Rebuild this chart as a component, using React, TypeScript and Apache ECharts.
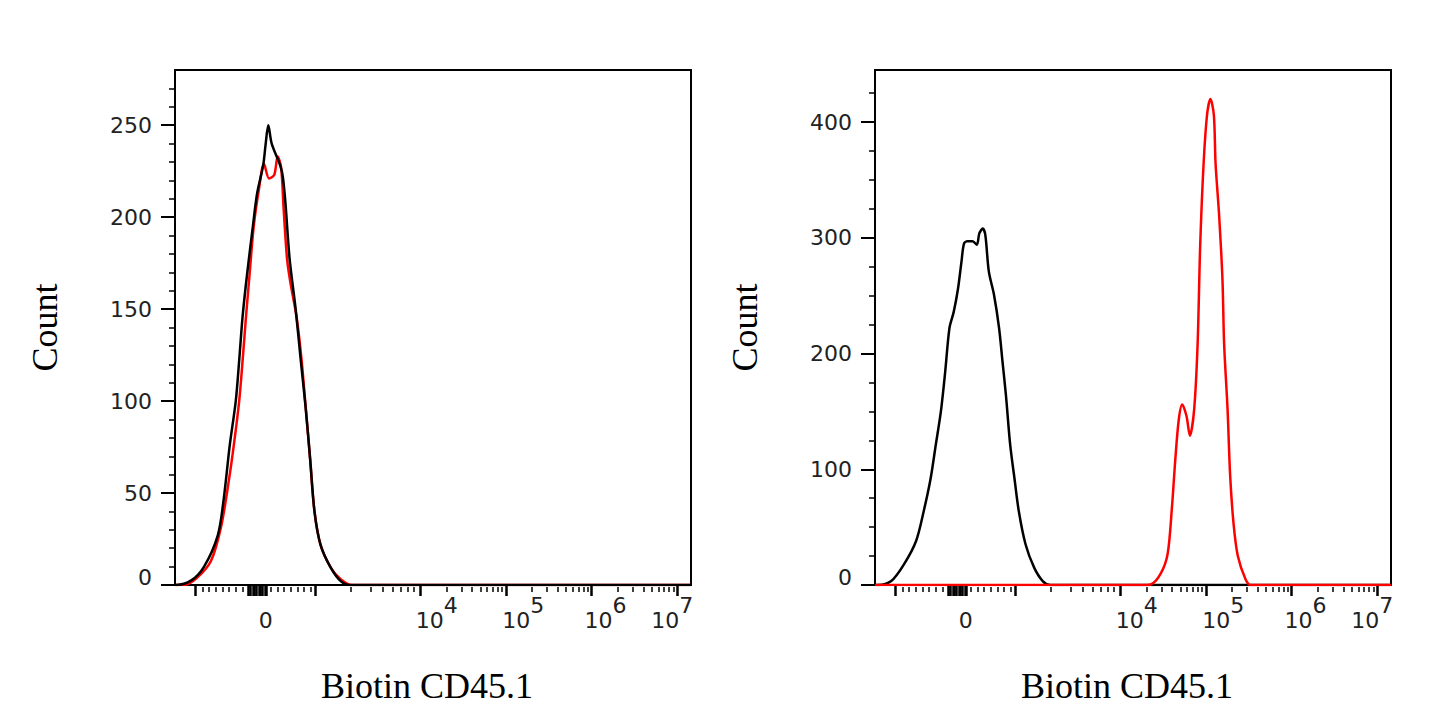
import * as echarts from "echarts";
import React, { useEffect, useRef } from "react";

// x values are positions on the biexponential display, in decade units (10^4 -> 4, 10^5 -> 5 ...)
const X_MIN = 1.13;
const X_MAX = 7.16;

// left panel
const leftRedX = [1.13, 1.24, 1.39, 1.55, 1.67, 1.76, 1.82, 1.88, 1.92, 1.96, 2.0, 2.05, 2.11, 2.17, 2.23, 2.29, 2.33, 2.37, 2.4, 2.44, 2.48, 2.55, 2.61, 2.66, 2.71, 2.76, 2.83, 2.95, 3.07, 3.2, 7.16];
const leftRedY = [0, 0, 4, 13, 32, 57, 77, 100, 122, 146, 168, 195, 215, 229, 221, 223, 233, 227, 204, 177, 164, 146, 122, 95, 68, 40, 22, 9.5, 3, 0, 0];
const leftBlackX = [1.13, 1.14, 1.32, 1.47, 1.63, 1.7, 1.77, 1.84, 1.88, 1.92, 1.97, 2.04, 2.09, 2.16, 2.19, 2.22, 2.26, 2.36, 2.39, 2.42, 2.47, 2.54, 2.6, 2.66, 2.71, 2.76, 2.83, 2.95, 3.07, 3.18, 7.16];
const leftBlackY = [0, 0, 2.5, 10, 27, 47, 76, 100, 122, 146, 168, 195, 213, 228, 240, 250, 240, 228, 222, 208, 177, 150, 122, 95, 68, 40, 22, 9.5, 2, 0, 0];

// right panel
const rightBlackX = [1.13, 1.16, 1.32, 1.47, 1.61, 1.7, 1.78, 1.84, 1.9, 1.95, 2.0, 2.05, 2.1, 2.14, 2.17, 2.21, 2.27, 2.32, 2.35, 2.39, 2.42, 2.46, 2.52, 2.58, 2.62, 2.66, 2.71, 2.76, 2.81, 2.89, 2.99, 3.09, 3.18, 7.16];
const rightBlackY = [0, 0, 3.4, 18, 38, 64, 92, 121, 150, 184, 222, 236, 256, 279, 295, 297, 297, 294, 304, 308, 302, 271, 251, 222, 193, 164, 121, 92, 64, 35, 15, 3.4, 0, 0];
const rightRedX = [1.13, 4.23, 4.35, 4.47, 4.55, 4.6, 4.64, 4.68, 4.72, 4.77, 4.81, 4.86, 4.9, 4.93, 4.97, 5.01, 5.05, 5.09, 5.11, 5.15, 5.19, 5.21, 5.25, 5.28, 5.32, 5.37, 5.46, 5.52, 7.16];
const rightRedY = [0, 0, 0.5, 10, 27, 67, 109, 143, 156, 146, 129, 152, 208, 293, 364, 406, 420, 406, 364, 321, 265, 208, 152, 95, 53, 25, 5, 0, 0];

// x axis ticks and labels
const xLabels = ["0", "10^4", "10^5", "10^6", "10^7"];
const xLabelPos = [2.19, 4.19, 5.2, 6.16, 6.94];
const xZeroCluster = [1.99, 2.01, 2.04, 2.06, 2.08, 2.11, 2.13, 2.15, 2.18, 2.2];
const xMajorTicks = [1.37, 2.77, 4, 5, 6, 7, ...xZeroCluster];
const xMinorNearZero = [1.45, 1.53, 1.61, 1.69, 1.76, 1.84, 1.92, 2.25, 2.33, 2.4, 2.48, 2.56, 2.64, 2.72];
const xMinorThousands = [3.18, 3.42, 3.56, 3.67, 3.77, 3.85, 3.92];
const decadeMinor = [4, 5, 6].flatMap((d) => [2, 3, 4, 5, 6, 7, 8, 9].map((k) => d + Math.log10(k)));
const xMinorTicks = [...xMinorNearZero, ...xMinorThousands, ...decadeMinor];

// y axes
const leftYMax = 280;
const leftYMajor = [0, 50, 100, 150, 200, 250];
const leftYMinor = [10, 20, 30, 40, 60, 70, 80, 90, 110, 120, 130, 140, 160, 170, 180, 190, 210, 220, 230, 240, 260, 270];
const rightYMax = 445;
const rightYMajor = [0, 100, 200, 300, 400];
const rightYMinor = [25, 50, 75, 125, 150, 175, 225, 250, 275, 325, 350, 375, 425];

const serif = "'Liberation Serif', 'Times New Roman', serif";
const sans = "'DejaVu Sans', Verdana, sans-serif";

const GRID_TOP = 70;
const GRID_H = 515;
const GRID_W = 516;

const toPairs = (xs: number[], ys: number[]) => xs.map((x, i) => [x, ys[i]]);

const fmtX = (v: number) => {
  const i = xLabelPos.findIndex((p) => Math.abs(p - v) < 1e-6);
  if (i < 0) return "";
  const [base, exp] = xLabels[i].split("^");
  return exp ? `{b|${base}}{s|${exp}}` : `{b|${base}}`;
};

const tickText = { fontFamily: sans, fontSize: 22, color: "#222", lineHeight: 24 };

const xAxesFor = (gridIndex: number) => [
  {
    type: "value",
    gridIndex,
    min: X_MIN,
    max: X_MAX,
    position: "bottom",
    offset: 2,
    axisLine: { show: false },
    splitLine: { show: false },
    axisTick: { show: true, customValues: xMajorTicks, length: 11, lineStyle: { color: "#000", width: 2.5 } },
    axisLabel: {
      show: true,
      customValues: xLabelPos,
      margin: 14,
      formatter: fmtX,
      rich: {
        b: { ...tickText, padding: [15, 0, 0, 0] },
        s: { ...tickText, padding: [0, 0, 15, 0] },
      },
    },
    name: "Biotin CD45.1",
    nameLocation: "middle",
    nameGap: 81,
    nameTextStyle: { fontFamily: serif, fontSize: 36, color: "#000", padding: [0, 12, 0, 0] },
  },
  {
    type: "value",
    gridIndex,
    min: X_MIN,
    max: X_MAX,
    position: "top",
    offset: -(GRID_H + 2),
    axisLine: { show: false },
    splitLine: { show: false },
    axisLabel: { show: false },
    axisTick: { show: true, inside: true, customValues: xMinorTicks, length: 5, lineStyle: { color: "#000", width: 1.5 } },
  },
];

const yAxesFor = (gridIndex: number, yMax: number, yMajor: number[], yMinor: number[]) => [
  {
    type: "value",
    gridIndex,
    min: 0,
    max: yMax,
    position: "left",
    axisLine: { show: false },
    splitLine: { show: false },
    axisTick: { show: true, customValues: yMajor, length: 14, lineStyle: { color: "#000", width: 2 } },
    axisLabel: {
      show: true,
      customValues: yMajor,
      margin: 23,
      formatter: (v: number) => (v === 0 ? "{z|0}" : `{n|${v}}`),
      rich: {
        n: { ...tickText },
        z: { ...tickText, padding: [0, 0, 16, 0] },
      },
    },
    name: "Count",
    nameLocation: "middle",
    nameGap: 112,
    nameTextStyle: { fontFamily: serif, fontSize: 36, color: "#000" },
  },
  {
    type: "value",
    gridIndex,
    min: 0,
    max: yMax,
    position: "right",
    offset: -GRID_W,
    axisLine: { show: false },
    splitLine: { show: false },
    axisLabel: { show: false },
    axisTick: { show: true, inside: true, customValues: yMinor, length: 6, lineStyle: { color: "#000", width: 1.5 } },
  },
];

const line = (name: string, color: string, xIdx: number, yIdx: number, xs: number[], ys: number[]) => ({
  name,
  type: "line",
  xAxisIndex: xIdx,
  yAxisIndex: yIdx,
  data: toPairs(xs, ys),
  symbol: "none",
  smooth: 0.3,
  lineStyle: { color, width: 2.5 },
});

const App: React.FC = () => {
  const chartRef = useRef<HTMLDivElement | null>(null);

  useEffect(() => {
    const chart = echarts.init(chartRef.current, null, { renderer: "svg" });
    chart.setOption({
      animation: false,
      backgroundColor: "#fff",
      grid: [
        { left: 175, top: GRID_TOP, width: GRID_W, height: GRID_H, show: true, borderColor: "#000", borderWidth: 2 },
        { left: 875, top: GRID_TOP, width: GRID_W, height: GRID_H, show: true, borderColor: "#000", borderWidth: 2 },
      ],
      xAxis: [...xAxesFor(0), ...xAxesFor(1)],
      yAxis: [
        ...yAxesFor(0, leftYMax, leftYMajor, leftYMinor),
        ...yAxesFor(1, rightYMax, rightYMajor, rightYMinor),
      ],
      series: [
        line("CD45.1 stained", "#ff0000", 0, 0, leftRedX, leftRedY),
        line("control", "#000", 0, 0, leftBlackX, leftBlackY),
        line("control", "#000", 2, 2, rightBlackX, rightBlackY),
        line("CD45.1 stained", "#ff0000", 2, 2, rightRedX, rightRedY),
      ],
    });
    return () => chart.dispose();
  }, []);

  return (
    <div
      ref={chartRef}
      style={{ position: "fixed", left: 0, top: 0, width: 1445, height: 723 }}
    ></div>
  );
};

export default App;
